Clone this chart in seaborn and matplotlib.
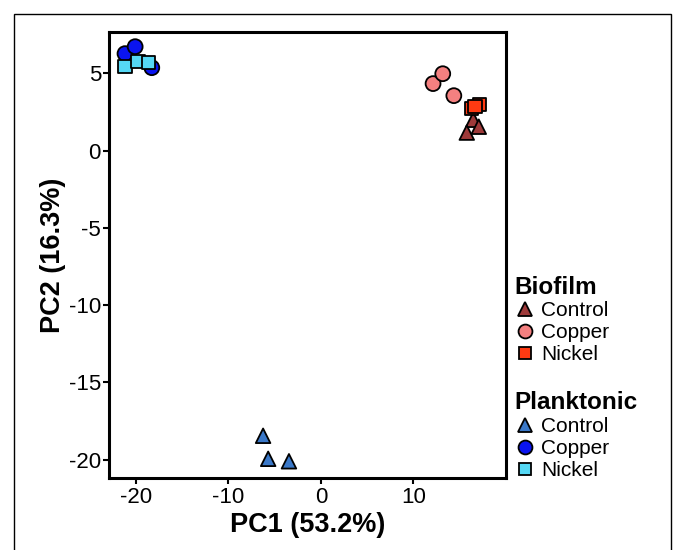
import pandas as pd
import numpy as np
import matplotlib.pyplot as plt
import matplotlib.patches as patches
from matplotlib.lines import Line2D
import seaborn as sns

sns.set_theme(style="white")
plt.rcParams["font.family"] = ["Liberation Sans", "DejaVu Sans"]
plt.rcParams["axes.unicode_minus"] = False
plt.rcParams["text.color"] = "black"

# ── Data ─────────────────────────────────────────────────────────────────────
groups     = ["Biofilm"] * 9 + ["Planktonic"] * 9
treatments = (["Control"] * 3 + ["Copper"] * 3 + ["Nickel"] * 3) * 2
pc1 = [16.5, 17.1, 15.8,   12.15, 13.2, 14.4,   16.3, 17.2, 16.7,
       -6.25, -5.7, -3.45, -21.2, -20.1, -18.3,  -21.2, -19.8, -18.7]
pc2 = [2.0, 1.55, 1.17,    4.34, 4.98, 3.56,    2.72, 2.98, 2.85,
       -18.45, -19.94, -20.1, 6.28, 6.73, 5.37,  5.44, 5.76, 5.70]

colours = {
    "Biofilm Control": "#9E3A3A",
    "Biofilm Copper": "#F48080",
    "Biofilm Nickel": "#FF3A12",
    "Planktonic Control": "#3A78C8",
    "Planktonic Copper": "#0A14F0",
    "Planktonic Nickel": "#55D8F5",
}
markers = {"Control": "^", "Copper": "o", "Nickel": "s"}
sizes   = {"Control": 110, "Copper": 115, "Nickel": 90}

df = pd.DataFrame({"group": groups, "treatment": treatments, "PC1": pc1, "PC2": pc2})
df["gt"] = df["group"] + " " + df["treatment"]

# ── Figure ───────────────────────────────────────────────────────────────────
fig = plt.figure(figsize=(6.73, 5.5), dpi=100)
ax = fig.add_axes([0.1624, 0.1304, 0.5895, 0.812])

for t in ["Control", "Copper", "Nickel"]:
    sub = df[df["treatment"] == t]
    sns.scatterplot(data=sub, x="PC1", y="PC2", hue="gt", palette=colours,
                    marker=markers[t], s=sizes[t], edgecolor="black",
                    linewidth=1.3, legend=False, ax=ax, zorder=3)

ax.set_xlim(-22.9, 20.05)
ax.set_ylim(-21.2, 7.7)
ax.set_xticks([-20, -10, 0, 10])
ax.set_yticks([5, 0, -5, -10, -15, -20])
ax.tick_params(axis="both", labelsize=16, length=4, width=1.5,
               direction="out", bottom=True, left=True, colors="black",
               labelcolor="black", pad=2)
for s in ax.spines.values():
    s.set_color("black")
    s.set_linewidth(2.2)
ax.set_xlabel("PC1 (53.2%)", fontsize=19.5, fontweight="bold", labelpad=3, color="black")
ax.set_ylabel("PC2 (16.3%)", fontsize=19.5, fontweight="bold", labelpad=2, color="black")

# ── Legends ──────────────────────────────────────────────────────────────────
def make_handles(group):
    hs = []
    for t in ["Control", "Copper", "Nickel"]:
        hs.append(Line2D([], [], linestyle="", marker=markers[t],
                         markerfacecolor=colours[f"{group} {t}"],
                         markeredgecolor="black", markeredgewidth=1.3,
                         markersize=10 if t != "Nickel" else 9))
    return hs

leg_kw = dict(loc="upper left", frameon=False, fontsize=15,
              title_fontproperties={"weight": "bold", "size": 17.5},
              alignment="left", handletextpad=0.25, labelspacing=0.14,
              handlelength=1.0, borderpad=0, borderaxespad=0, labelcolor="black")
leg1 = ax.legend(make_handles("Biofilm"), ["Control", "Copper", "Nickel"],
                 title="Biofilm", bbox_to_anchor=(0.765, 0.499),
                 bbox_transform=fig.transFigure, **leg_kw)
ax.add_artist(leg1)
ax.legend(make_handles("Planktonic"), ["Control", "Copper", "Nickel"],
          title="Planktonic", bbox_to_anchor=(0.765, 0.289),
          bbox_transform=fig.transFigure, **leg_kw)

# outer frame
fig.patches.append(patches.Rectangle((14 / 673, -0.05), 657 / 673, 1.05 - 13.5 / 550,
                                     transform=fig.transFigure, fill=False,
                                     edgecolor="black", linewidth=1.0))

plt.savefig("out.png", dpi=100)
plt.close()
